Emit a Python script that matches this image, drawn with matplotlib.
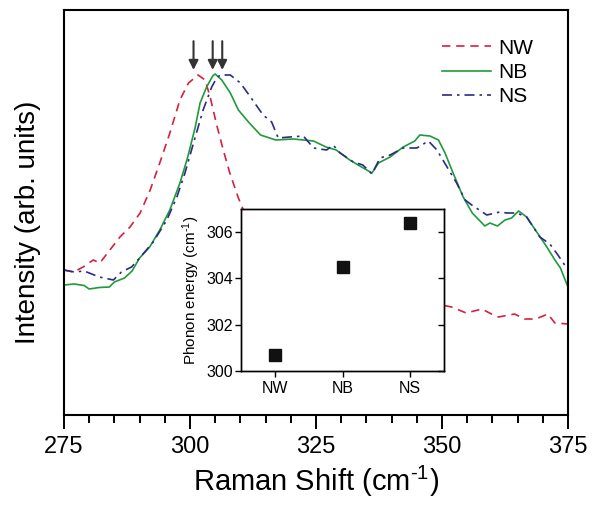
import matplotlib
matplotlib.use("Agg")
import matplotlib.pyplot as plt

plt.rcParams['font.family'] = ['Liberation Sans', 'DejaVu Sans']
plt.rcParams['mathtext.fontset'] = 'custom'
plt.rcParams['mathtext.rm'] = 'Liberation Sans'
plt.rcParams['mathtext.default'] = 'regular'

# ---- main spectra (Raman shift, intensity in arb. units) ----
nw_shift = [275, 276.9, 278.8, 280.8, 282.1, 284.1, 286.1, 288.1, 290.1, 292.1, 294, 296, 298,
            299.7, 301.6, 303, 304, 305.3, 306.6, 307.9, 309.6, 311, 313, 316, 320, 325, 330,
            335, 340, 345, 349, 351.9, 354.8, 357.9, 360.2, 361.2, 364.4, 366.4, 368.6, 371,
            372.4, 375]
nw_int = [145, 143, 148, 155, 152, 165, 178, 188, 202, 225, 252, 282, 315,
          332, 340, 335, 318, 290, 265, 242, 217, 200, 180, 160, 145, 132, 123,
          118, 115, 113, 111, 108, 102, 106, 100, 98, 101, 96, 96, 101,
          92, 91]

nb_shift = [275, 277, 279, 280, 282, 284, 285, 287, 288.5, 290, 292, 294, 296, 298, 299.5,
            301, 302, 303.3, 304.5, 305, 306.3, 308, 309.6, 311.6, 314, 317, 320.5, 324.5,
            327, 329, 331.7, 333.7, 336.1, 337.4, 339.7, 342.3, 344.6, 345.6, 347.6, 349.3,
            350.6, 352.2, 354.2, 356, 358.5, 359.5, 361, 362.5, 363.8, 365.2, 366.8, 368.8,
            370.8, 372.4, 373.5, 375]
nb_int = [130, 131, 129.5, 126, 127.5, 128, 133, 137, 144, 157, 168, 185, 205, 232, 257,
          287, 312, 328, 339, 341, 335, 322, 305, 293, 280, 275, 276, 274,
          268, 265, 255, 249, 242, 252, 258, 268, 274, 280, 279, 275,
          262, 242, 218, 202, 189, 192, 189, 195, 197, 204, 198, 183,
          168, 155, 147, 128]

ns_shift = [275, 277, 279, 282, 284.8, 286.4, 288.4, 290, 292.7, 295.4, 297.4, 299, 300.7,
            302.6, 304.3, 305.3, 306, 308, 310, 312, 314.5, 316.2, 317.5, 319.8, 322.5,
            324.5, 327.1, 328.4, 329.8, 332.4, 334.3, 336.1, 337.7, 339.7, 342.3, 345,
            347.3, 349, 351, 352.9, 354.6, 355.9, 358.9, 361.5, 362.8, 364.8, 366.8, 369.4,
            371.4, 373, 375]
ns_int = [145, 143, 144, 138, 135, 143, 148, 157, 173, 195, 218, 242, 272,
          305, 328, 337, 340, 340, 332, 318, 300, 293, 277, 278, 279,
          267, 265, 270, 262, 253, 250, 241, 257, 260, 267, 267,
          274, 265, 248, 232, 215, 210, 200, 203, 202, 202, 198, 178,
          171, 160, 145]

# ---- inset: phonon energies ----
samples = ['NW', 'NB', 'NS']
phonon_energy = [300.7, 304.5, 306.4]

fig = plt.figure(figsize=(5.99, 5.12), dpi=100)
ax = fig.add_axes([64/599, 1-415/512, 504/599, 405/512])

ax.plot(nw_shift, nw_int, color='#d8203c', lw=1.2, ls=(0, (5, 3.5)), label='NW')
ax.plot(nb_shift, nb_int, color='#1f9a3c', lw=1.2, ls='-', label='NB')
ax.plot(ns_shift, ns_int, color='#2b2b84', lw=1.2, ls=(0, (6, 3, 1.5, 3)), label='NS')

ax.set_xlim(275, 375)
ax.set_ylim(0, 405)
ax.set_xticks([275, 300, 325, 350, 375])
ax.set_xticks(range(275, 376, 5), minor=True)
ax.set_yticks([])
ax.tick_params(axis='x', which='major', direction='out', length=10, width=1.4,
               labelsize=17, pad=5)
ax.tick_params(axis='x', which='minor', direction='out', length=5.5, width=1.4)
for s in ax.spines.values():
    s.set_linewidth(1.5)

ax.set_xlabel(r'Raman Shift (cm$^{\text{-}1}$)', fontsize=21)
ax.set_ylabel('Intensity (arb. units)', fontsize=20)
ax.yaxis.set_label_coords(-0.045, 0.477)

leg = ax.legend(loc='upper left', bbox_to_anchor=(0.75, 0.929), frameon=False,
                fontsize=15, handlelength=2.35, handletextpad=0.35, labelspacing=0.25,
                borderaxespad=0, borderpad=0)

for e in phonon_energy:
    ax.annotate('', xy=(e, 0.852), xytext=(e, 0.923),
                xycoords=('data', 'axes fraction'), textcoords=('data', 'axes fraction'),
                arrowprops=dict(arrowstyle='-|>', color='#333333', lw=1.5,
                                mutation_scale=14, shrinkA=0, shrinkB=0))

# ---- inset ----
ins = fig.add_axes([241/599, 1-371/512, 203/599, 162/512])
ins.set_facecolor('white')
pos = [1, 2, 3]
ins.plot(pos, phonon_energy, ls='none', marker='s', markersize=8.5, color='#111111')
ins.set_xlim(0.5, 3.5)
ins.set_ylim(300, 307)
ins.set_xticks(pos)
ins.set_xticklabels(samples)
ins.set_yticks([300, 302, 304, 306])
ins.tick_params(axis='both', direction='out', length=4, width=1, labelsize=11.5, pad=1.5)
ins.tick_params(axis='x', pad=3)
for s in ins.spines.values():
    s.set_linewidth(1)
ins.set_ylabel(r'Phonon energy (cm$^{\text{-}1}$)', fontsize=11, labelpad=3)
tw = ins.twinx()
tw.set_ylim(300, 307)
tw.set_yticks([300, 302, 304, 306])
tw.tick_params(axis='y', direction='in', length=4, width=1, labelright=False)
for s in tw.spines.values():
    s.set_linewidth(1)

fig.savefig('out.png', dpi=100)
